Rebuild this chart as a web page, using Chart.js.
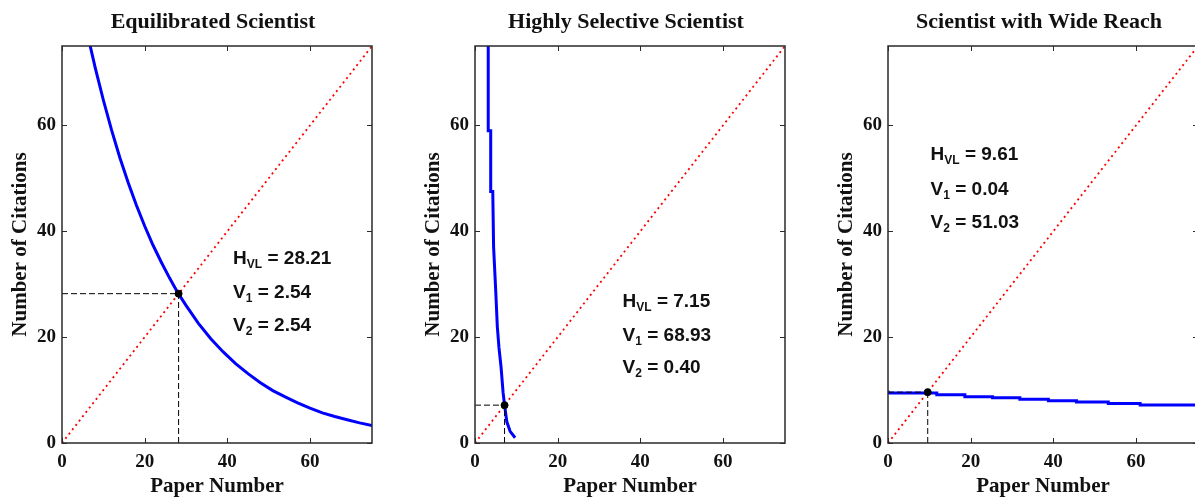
<!DOCTYPE html>
<html>
<head>
<meta charset="utf-8">
<script src="https://cdn.jsdelivr.net/npm/chart.js@4/dist/chart.umd.min.js"></script>
<style>
    html, body { margin: 0; padding: 0; background: #fff; overflow: hidden; width: 1195px; height: 497px; position: relative; }
    canvas { position: absolute; top: 0; }
</style>
</head>
<body>
<canvas id="equilibrated" width="400" height="497" style="left:0px"></canvas>
<canvas id="selective" width="400" height="497" style="left:413px"></canvas>
<canvas id="wideReach" width="400" height="497" style="left:826px"></canvas>
<script>
const titles = ['Equilibrated Scientist', 'Highly Selective Scientist', 'Scientist with Wide Reach'];
const hvl = [28.21, 7.15, 9.61];
const v1 = ['2.54', '68.93', '0.04'];
const v2 = ['2.54', '0.40', '51.03'];
const tickValues = [0, 20, 40, 60];
const axisMax = 75;

// y = x reference line
const diagonalX = [0, 75];
const diagonalY = [0, 75];

// citation curves (paper number, citations)
const equilibratedX = [6, 8, 10, 12, 14, 16, 18, 20, 22, 24, 26, 28, 30, 33, 36, 39, 42, 45, 48, 51, 54, 57, 60, 63, 66, 69, 72, 75];
const equilibratedY = [77.8, 71.0, 64.8, 59.1, 53.9, 49.2, 44.9, 41.0, 37.4, 34.2, 31.2, 28.4, 26.0, 22.6, 19.7, 17.2, 15.0, 13.1, 11.4, 9.9, 8.7, 7.6, 6.6, 5.7, 5.0, 4.4, 3.8, 3.3];

const selectiveX = [3.2, 3.2, 3.8, 3.8, 4.3, 4.5, 5.0, 5.4, 5.8, 6.3, 6.8, 7.15, 7.7, 8.5, 9.7];
const selectiveY = [76, 59, 59, 47.5, 47.5, 37, 29, 22, 18, 14.4, 9.5, 7.15, 4.0, 2.2, 1.0];

const wideReachX = [0, 11.8, 18.6, 25.3, 31.9, 38.8, 45.6, 53.3, 61.0, 68.6, 75];
const wideReachY = [9.9, 9.45, 9.1, 8.75, 8.55, 8.25, 8.0, 7.75, 7.45, 7.2, 7.2];

const panels = [
    { id: 'equilibrated', xs: equilibratedX, ys: equilibratedY, stepped: false, text: { x: 41.4, rows: [34.8, 28.4, 22.1] } },
    { id: 'selective', xs: selectiveX, ys: selectiveY, stepped: false, text: { x: 35.7, rows: [26.7, 20.2, 14.2] } },
    { id: 'wideReach', xs: wideReachX, ys: wideReachY, stepped: 'after', text: { x: 10.3, rows: [54.4, 47.8, 41.6] } },
];

const serif = '"Liberation Serif", "Times New Roman", serif';
const sans = '"Liberation Sans", Arial, sans-serif';

function points(xs, ys) {
    return xs.map((x, i) => ({ x, y: ys[i] }));
}

function drawLabel(ctx, x, y, main, sub, rest) {
    ctx.textAlign = 'left';
    ctx.textBaseline = 'middle';
    ctx.font = `bold 19px ${sans}`;
    ctx.fillText(main, x, y);
    let w = ctx.measureText(main).width;
    ctx.font = `bold 12px ${sans}`;
    ctx.fillText(sub, x + w, y + 6);
    w += ctx.measureText(sub).width;
    ctx.font = `bold 19px ${sans}`;
    ctx.fillText(rest, x + w, y);
}

const framePlugin = {
    id: 'frame',
    afterDatasetsDraw(chart, args, opts) {
        const { ctx, chartArea: a, scales: { x, y } } = chart;
        ctx.save();
        ctx.strokeStyle = '#2a2a2a';
        ctx.lineWidth = 1.5;
        ctx.strokeRect(a.left, a.top, a.right - a.left, a.bottom - a.top);
        ctx.lineWidth = 1;
        ctx.beginPath();
        tickValues.forEach((v) => {
            const px = Math.round(x.getPixelForValue(v)) + 0.5;
            const py = Math.round(y.getPixelForValue(v)) + 0.5;
            ctx.moveTo(px, a.bottom); ctx.lineTo(px, a.bottom - 5);
            ctx.moveTo(px, a.top); ctx.lineTo(px, a.top + 5);
            ctx.moveTo(a.left, py); ctx.lineTo(a.left + 5, py);
            ctx.moveTo(a.right, py); ctx.lineTo(a.right - 5, py);
        });
        ctx.stroke();

        ctx.fillStyle = '#111';
        ctx.font = `bold 22px ${serif}`;
        ctx.textAlign = 'center';
        ctx.textBaseline = 'middle';
        ctx.fillText(opts.title, (a.left + a.right) / 2 - 4, 22);

        const tx = x.getPixelForValue(opts.text.x);
        drawLabel(ctx, tx, y.getPixelForValue(opts.text.rows[0]), 'H', 'VL', ` = ${opts.hvl.toFixed(2)}`);
        drawLabel(ctx, tx, y.getPixelForValue(opts.text.rows[1]), 'V', '1', ` = ${opts.v1}`);
        drawLabel(ctx, tx, y.getPixelForValue(opts.text.rows[2]), 'V', '2', ` = ${opts.v2}`);
        ctx.restore();
    },
};

function axis(position, title, fit) {
    return {
        type: 'linear',
        position,
        min: 0,
        max: axisMax,
        afterBuildTicks: (scale) => { scale.ticks = tickValues.map((value) => ({ value })); },
        afterFit: fit,
        grid: { display: false, drawTicks: false },
        border: { display: false },
        ticks: {
            color: '#111',
            padding: position === 'bottom' ? 8 : 6,
            font: { family: serif, size: 19, weight: 'bold' },
        },
        title: {
            display: true,
            text: title,
            color: '#111',
            font: { family: serif, size: 21, weight: 'bold', lineHeight: 1 },
            padding: position === 'bottom' ? { top: 0, bottom: 0 } : { top: 10.5, bottom: 0 },
        },
    };
}

panels.forEach((panel, i) => {
    const h = hvl[i];
    new Chart(document.getElementById(panel.id), {
        type: 'scatter',
        data: {
            datasets: [
                {
                    data: [{ x: h, y: h }],
                    pointRadius: 3.5,
                    pointBackgroundColor: '#000',
                    pointBorderColor: '#000',
                    order: 0,
                },
                {
                    data: [{ x: 0, y: h }, { x: h, y: h }],
                    showLine: true,
                    borderColor: '#000',
                    borderWidth: 1,
                    borderDash: [6, 3],
                    pointRadius: 0,
                    order: 1,
                },
                {
                    data: [{ x: h, y: 0 }, { x: h, y: h }],
                    showLine: true,
                    borderColor: '#000',
                    borderWidth: 1,
                    borderDash: [6, 3],
                    pointRadius: 0,
                    order: 1,
                },
                {
                    data: points(panel.xs, panel.ys),
                    showLine: true,
                    stepped: panel.stepped,
                    borderColor: '#0000ff',
                    borderWidth: 3,
                    pointRadius: 0,
                    order: 2,
                },
                {
                    data: points(diagonalX, diagonalY),
                    showLine: true,
                    borderColor: '#ff0000',
                    borderWidth: 1.8,
                    borderDash: [2, 3.5],
                    pointRadius: 0,
                    order: 3,
                },
            ],
        },
        options: {
            responsive: false,
            animation: false,
            layout: { padding: { top: 46, right: 28, bottom: 0, left: 0 } },
            plugins: {
                legend: { display: false },
                tooltip: { enabled: false },
                frame: { title: titles[i], hvl: h, v1: v1[i], v2: v2[i], text: panel.text },
            },
            scales: {
                x: axis('bottom', 'Paper Number', (s) => { s.height = 54; }),
                y: axis('left', 'Number of Citations', (s) => { s.width = 62; }),
            },
        },
        plugins: [framePlugin],
    });
});
</script>
</body>
</html>
